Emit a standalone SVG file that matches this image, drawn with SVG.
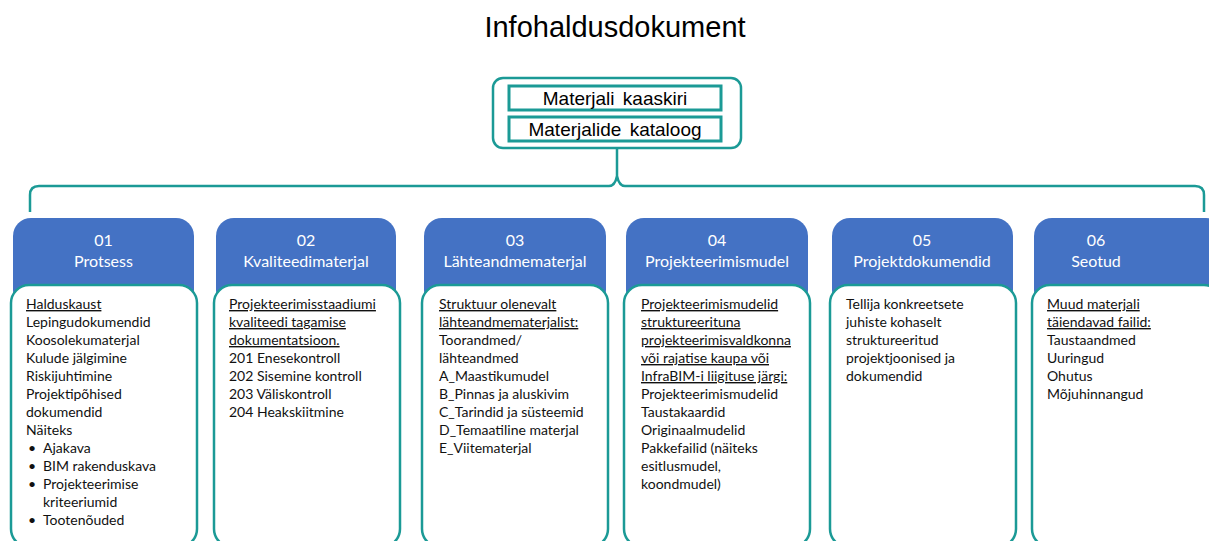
<svg xmlns="http://www.w3.org/2000/svg" width="1209" height="541" viewBox="0 0 1209 541">
  <style>
    .title { font-family: "Liberation Sans", Arial, sans-serif; font-size: 29px; fill: #000; }
    .doc { font-family: "Liberation Sans", Arial, sans-serif; font-size: 19px; fill: #000; }
    .teal { fill: none; stroke: #1B9A96; stroke-width: 2.5; }
    .inner { fill: #fff; stroke: #1B9A96; stroke-width: 3; }
    .head { fill: #4472C4; }
    .card { fill: #fff; stroke: #1B9A96; stroke-width: 2.5; }
    .ht { font-family: Lato, "Open Sans", sans-serif; font-size: 16px; fill: #fff; text-anchor: middle; }
    .bt { font-family: Lato, "Open Sans", sans-serif; font-size: 14px; fill: #111; }
    .u { text-decoration: underline; }
  </style>

  <text class="title" x="615" y="37" text-anchor="middle">Infohaldusdokument</text>

  <!-- document container -->
  <g id="documents">
    <rect class="teal" x="493" y="78" width="248" height="70" rx="10"/>
    <rect class="inner" x="509" y="86" width="212" height="24"/>
    <text class="doc" x="615" y="105" text-anchor="middle" word-spacing="3">Materjali kaaskiri</text>
    <rect class="inner" x="509" y="117" width="212" height="24"/>
    <text class="doc" x="615" y="136" text-anchor="middle" word-spacing="3">Materjalide kataloog</text>
  </g>

  <!-- brace joining the document container to the folders -->
  <g id="connectors">
    <path class="teal" d="M617,148 V176 M30,212 V195 Q30,186 39,186 H609 Q615,186 617,176 Q619,186 625,186 H1195 Q1204,186 1204,195 V212"/>
  </g>

  <!-- 01 -->
  <g id="folder-01">
    <rect class="head" x="13" y="218" width="181" height="90" rx="18"/>
    <text class="ht" x="103.5" y="246">01</text>
    <text class="ht" x="103.5" y="267">Protsess</text>
    <rect class="card" x="11" y="285" width="186" height="262" rx="18"/>
    <text class="bt" x="26" y="309"><tspan class="u">Halduskaust</tspan>
      <tspan x="26" dy="18">Lepingudokumendid</tspan>
      <tspan x="26" dy="18">Koosolekumaterjal</tspan>
      <tspan x="26" dy="18">Kulude jälgimine</tspan>
      <tspan x="26" dy="18">Riskijuhtimine</tspan>
      <tspan x="26" dy="18">Projektipõhised</tspan>
      <tspan x="26" dy="18">dokumendid</tspan>
      <tspan x="26" dy="18">Näiteks</tspan>
      <tspan x="28" dy="18">•</tspan><tspan x="43">Ajakava</tspan>
      <tspan x="28" dy="18">•</tspan><tspan x="43">BIM rakenduskava</tspan>
      <tspan x="28" dy="18">•</tspan><tspan x="43">Projekteerimise</tspan>
      <tspan x="43" dy="18">kriteeriumid</tspan>
      <tspan x="28" dy="18">•</tspan><tspan x="43">Tootenõuded</tspan></text>
  </g>

  <!-- 02 -->
  <g id="folder-02">
    <rect class="head" x="216" y="218" width="180" height="90" rx="18"/>
    <text class="ht" x="306" y="246">02</text>
    <text class="ht" x="306" y="267">Kvaliteedimaterjal</text>
    <rect class="card" x="214" y="285" width="186" height="262" rx="18"/>
    <text class="bt" x="229" y="309"><tspan class="u">Projekteerimisstaadiumi</tspan>
      <tspan x="229" dy="18" class="u">kvaliteedi tagamise</tspan>
      <tspan x="229" dy="18" class="u">dokumentatsioon.</tspan>
      <tspan x="229" dy="18">201 Enesekontroll</tspan>
      <tspan x="229" dy="18">202 Sisemine kontroll</tspan>
      <tspan x="229" dy="18">203 Väliskontroll</tspan>
      <tspan x="229" dy="18">204 Heakskiitmine</tspan></text>
  </g>

  <!-- 03 -->
  <g id="folder-03">
    <rect class="head" x="424" y="218" width="182" height="90" rx="18"/>
    <text class="ht" x="515" y="246">03</text>
    <text class="ht" x="515" y="267">Lähteandmematerjal</text>
    <rect class="card" x="422" y="285" width="186" height="262" rx="18"/>
    <text class="bt" x="439" y="309"><tspan class="u">Struktuur olenevalt</tspan>
      <tspan x="439" dy="18" class="u">lähteandmematerjalist:</tspan>
      <tspan x="439" dy="18">Toorandmed/</tspan>
      <tspan x="439" dy="18">lähteandmed</tspan>
      <tspan x="439" dy="18">A_Maastikumudel</tspan>
      <tspan x="439" dy="18">B_Pinnas ja aluskivim</tspan>
      <tspan x="439" dy="18">C_Tarindid ja süsteemid</tspan>
      <tspan x="439" dy="18">D_Temaatiline materjal</tspan>
      <tspan x="439" dy="18">E_Viitematerjal</tspan></text>
  </g>

  <!-- 04 -->
  <g id="folder-04">
    <rect class="head" x="626" y="218" width="182" height="90" rx="18"/>
    <text class="ht" x="717" y="246">04</text>
    <text class="ht" x="717" y="267">Projekteerimismudel</text>
    <rect class="card" x="624" y="285" width="186" height="262" rx="18"/>
    <text class="bt" x="641" y="309"><tspan class="u">Projekteerimismudelid</tspan>
      <tspan x="641" dy="18" class="u">struktureerituna</tspan>
      <tspan x="641" dy="18" class="u">projekteerimisvaldkonna</tspan>
      <tspan x="641" dy="18" class="u">või rajatise kaupa või</tspan>
      <tspan x="641" dy="18" class="u">InfraBIM-i liigituse järgi:</tspan>
      <tspan x="641" dy="18">Projekteerimismudelid</tspan>
      <tspan x="641" dy="18">Taustakaardid</tspan>
      <tspan x="641" dy="18">Originaalmudelid</tspan>
      <tspan x="641" dy="18">Pakkefailid (näiteks</tspan>
      <tspan x="641" dy="18">esitlusmudel,</tspan>
      <tspan x="641" dy="18">koondmudel)</tspan></text>
  </g>

  <!-- 05 -->
  <g id="folder-05">
    <rect class="head" x="832" y="218" width="181" height="90" rx="18"/>
    <text class="ht" x="922" y="246">05</text>
    <text class="ht" x="922" y="267">Projektdokumendid</text>
    <rect class="card" x="830" y="285" width="186" height="262" rx="18"/>
    <text class="bt" x="846" y="309">Tellija konkreetsete
      <tspan x="846" dy="18">juhiste kohaselt</tspan>
      <tspan x="846" dy="18">struktureeritud</tspan>
      <tspan x="846" dy="18">projektjoonised ja</tspan>
      <tspan x="846" dy="18">dokumendid</tspan></text>
  </g>

  <!-- 06 -->
  <g id="folder-06">
    <rect class="head" x="1034" y="218" width="190" height="90" rx="18"/>
    <text class="ht" x="1096" y="246">06</text>
    <text class="ht" x="1096" y="267">Seotud</text>
    <rect class="card" x="1032" y="285" width="190" height="262" rx="18"/>
    <text class="bt" x="1047" y="309"><tspan class="u">Muud materjali</tspan>
      <tspan x="1047" dy="18" class="u">täiendavad failid:</tspan>
      <tspan x="1047" dy="18">Taustaandmed</tspan>
      <tspan x="1047" dy="18">Uuringud</tspan>
      <tspan x="1047" dy="18">Ohutus</tspan>
      <tspan x="1047" dy="18">Mõjuhinnangud</tspan></text>
  </g>
</svg>
